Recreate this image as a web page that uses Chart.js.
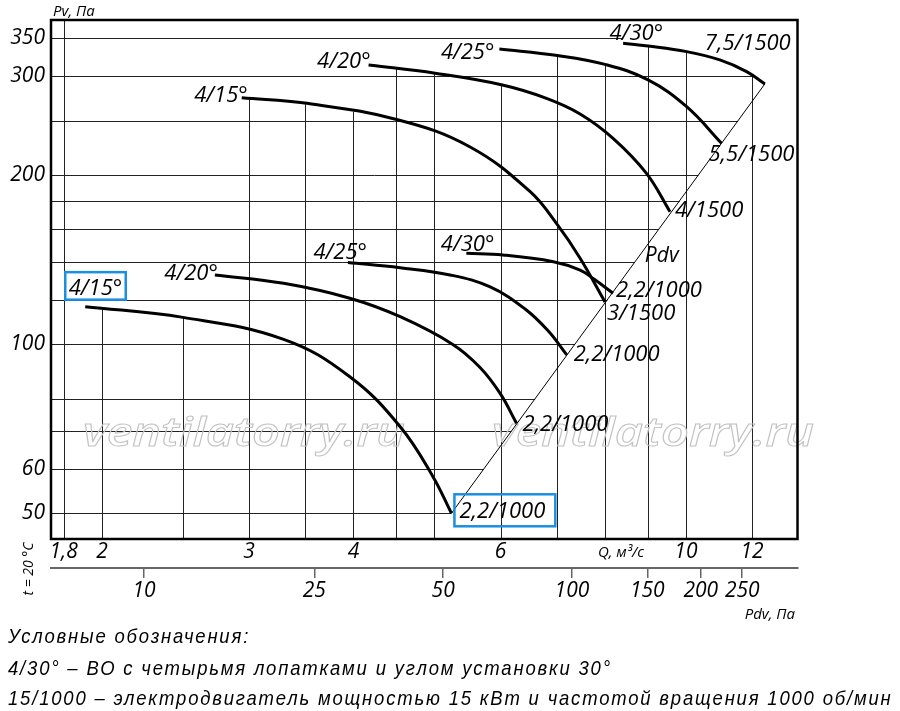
<!DOCTYPE html>
<html>
<head>
<meta charset="utf-8">
<script src="https://cdn.jsdelivr.net/npm/chart.js@4.4.1/dist/chart.umd.min.js"></script>
<style>
  html, body { margin: 0; padding: 0; background: #fff; }
  #wrap { position: relative; width: 900px; height: 711px; overflow: hidden; }
  #chart { position: absolute; left: 0; top: 0; }
  .note {
    position: absolute; left: 8px; margin: 0;
    font: italic 21px "Liberation Sans", Arial, sans-serif;
    line-height: 24px; white-space: nowrap; color: #000;
    transform: scaleX(0.88); transform-origin: 0 0;
  }
</style>
</head>
<body>
<div id="wrap">
  <canvas id="chart" width="900" height="711"></canvas>
  <p class="note" style="top:624px">Условные обозначения:</p>
  <p class="note" style="top:656px">4/30° – ВО с четырьмя лопатками и углом установки 30°</p>
  <p class="note" id="lastNote" style="top:686px">15/1000 – электродвигатель мощностью 15 кВт и частотой вращения 1000 об/мин</p>
</div>
<script>
// axes: Q in m3/s (log), Pv in Pa (log), Pdv in Pa (log)
const qGrid = [1.8, 2, 2.5, 3, 3.5, 4, 4.5, 5, 6, 7, 8, 9, 10, 12];
const qTicks = [1.8, 2, 3, 4, 6, 10, 12];
const pvGrid = [50, 60, 70, 80, 100, 120, 140, 160, 180, 200, 250, 300, 350];
const pvTicks = [50, 60, 100, 200, 300, 350];
const pdvTicks = [10, 25, 50, 100, 150, 200, 250];

// 1000 rpm curves
const q15Low = [1.91, 2.50, 3.30, 3.96, 4.55, 4.98, 5.24];
const pv15Low = [116.6, 111.6, 102.0, 87.5, 71.3, 58.1, 50.0];
const q20Low = [2.73, 3.30, 3.96, 4.55, 5.26, 5.67, 5.99, 6.27];
const pv20Low = [132.8, 128.3, 120.7, 111.9, 99.9, 90.9, 81.8, 72.3];
const q25Low = [3.94, 4.55, 5.22, 5.83, 6.42, 6.84, 7.20];
const pv25Low = [139.8, 136.8, 132.8, 126.4, 115.5, 105.6, 95.7];
const q30Low = [5.46, 6.04, 6.94, 7.47, 7.76, 8.18];
const pv30Low = [145.1, 144.1, 140.2, 135.5, 130.6, 123.2];

// 1500 rpm curves
const q15High = [2.94, 3.52, 4.53, 5.51, 6.51, 7.02, 7.47, 8.00];
const pv15High = [274.6, 268.3, 250.6, 224.6, 186.8, 163.0, 142.2, 118.9];
const q20High = [4.17, 5.01, 6.03, 6.81, 7.47, 8.18, 8.97, 9.57];
const pv20High = [314.0, 303.5, 289.3, 273.9, 256.9, 232.5, 201.4, 172.1];
const q25High = [5.98, 7.02, 8.00, 9.01, 10.02, 11.03];
const pv25High = [335.3, 326.4, 314.7, 295.3, 264.6, 227.8];
const q30High = [8.41, 9.01, 10.02, 10.98, 11.82, 12.43];
const pv30High = [343.2, 339.4, 331.6, 320.5, 305.5, 290.5];

// dynamic pressure line
const qPdvLine = [5.24, 12.43];
const pvPdvLine = [50.0, 290.5];

const angleLabels = ['4/15°', '4/20°', '4/25°', '4/30°'];
const motorLow = ['2,2/1000', '2,2/1000', '2,2/1000', '2,2/1000'];
const motorHigh = ['3/1500', '4/1500', '5,5/1500', '7,5/1500'];

const curves = [
  { q: q15Low, pv: pv15Low, start: angleLabels[0], end: motorLow[0] },
  { q: q20Low, pv: pv20Low, start: angleLabels[1], end: motorLow[1] },
  { q: q25Low, pv: pv25Low, start: angleLabels[2], end: motorLow[2] },
  { q: q30Low, pv: pv30Low, start: angleLabels[3], end: motorLow[3] },
  { q: q15High, pv: pv15High, start: angleLabels[0], end: motorHigh[0] },
  { q: q20High, pv: pv20High, start: angleLabels[1], end: motorHigh[1] },
  { q: q25High, pv: pv25High, start: angleLabels[2], end: motorHigh[2] },
  { q: q30High, pv: pv30High, start: angleLabels[3], end: motorHigh[3] },
];

// label offsets in px from the curve start (right aligned) and end (left aligned)
const startOffsets = [[37, -12], [3, 5], [19, -3], [28, -2], [6, 4], [2, 3], [-5, 10], [40, -3]];
const endOffsets = [[8, 5], [6, 8], [7, 6], [3, 4], [2, 18], [5, 5], [-13, 18], [-60, -34]];
const blue = '#1b8fe0';

function interpLog(qs, ps, q) {
  for (let i = 0; i < qs.length - 1; i++) {
    if (q >= qs[i] && q <= qs[i + 1]) {
      const t = Math.log(q / qs[i]) / Math.log(qs[i + 1] / qs[i]);
      return Math.exp(Math.log(ps[i]) + t * Math.log(ps[i + 1] / ps[i]));
    }
  }
  return null;
}

// right end of a horizontal grid line: the Pdv line, above it the 4/30 curve
function rightEdge(p) {
  if (p <= pvPdvLine[1]) {
    const n = Math.log(pvPdvLine[1] / pvPdvLine[0]) / Math.log(qPdvLine[1] / qPdvLine[0]);
    return qPdvLine[0] * Math.pow(p / pvPdvLine[0], 1 / n);
  }
  const qs = q30High, ps = pv30High;
  if (p >= ps[0]) return qs[0];
  for (let i = 0; i < qs.length - 1; i++) {
    if (p <= ps[i] && p >= ps[i + 1]) {
      const t = Math.log(ps[i] / p) / Math.log(ps[i] / ps[i + 1]);
      return Math.exp(Math.log(qs[i]) + t * Math.log(qs[i + 1] / qs[i]));
    }
  }
  return qs[qs.length - 1];
}

function italic(size) {
  return 'italic ' + size + 'px "Open Sans", "DejaVu Sans", sans-serif';
}

function watermark(ctx, text, left, baseline) {
  ctx.save();
  ctx.font = 'italic 600 40px "Open Sans", sans-serif';
  const sx = 322 / ctx.measureText(text).width;
  ctx.translate(left, baseline);
  ctx.scale(sx, 1);
  ctx.strokeStyle = '#c2c2c2';
  ctx.lineWidth = 1;
  ctx.textAlign = 'left';
  ctx.textBaseline = 'alphabetic';
  ctx.strokeText(text, 0, 0);
  ctx.restore();
}

const fanPlugin = {
  id: 'fanPlugin',
  beforeDatasetsDraw(chart) {
    const { ctx, chartArea: area, scales: { x, y } } = chart;
    ctx.save();
    ctx.strokeStyle = '#222';
    ctx.lineWidth = 1;
    ctx.beginPath();
    // vertical lines stop under the highest curve above them
    qGrid.forEach(q => {
      let top = null;
      curves.forEach(c => {
        if (q < c.q[0] * 1.01 || q > c.q[c.q.length - 1]) return;
        const p = interpLog(c.q, c.pv, q);
        if (p !== null && (top === null || p > top)) top = p;
      });
      const px = Math.round(x.getPixelForValue(q)) + 0.5;
      ctx.moveTo(px, area.bottom);
      ctx.lineTo(px, top === null ? area.top : y.getPixelForValue(top));
    });
    pvGrid.forEach(p => {
      const py = Math.round(y.getPixelForValue(p)) + 0.5;
      ctx.moveTo(area.left, py);
      ctx.lineTo(x.getPixelForValue(rightEdge(p)), py);
    });
    ctx.stroke();
    ctx.restore();

    watermark(ctx, 'ventilatorry.ru', 83, 446);
    watermark(ctx, 'ventilatorry.ru', 492, 446);
  },
  afterDatasetsDraw(chart) {
    const { ctx, chartArea: area, scales: { x, y } } = chart;
    ctx.save();
    ctx.fillStyle = '#000';
    ctx.textBaseline = 'alphabetic';
    ctx.font = italic(22);
    curves.forEach((c, i) => {
      const n = c.q.length - 1;
      const sx = x.getPixelForValue(c.q[0]) + startOffsets[i][0];
      const sy = y.getPixelForValue(c.pv[0]) + startOffsets[i][1];
      const ex = x.getPixelForValue(c.q[n]) + endOffsets[i][0];
      const ey = y.getPixelForValue(c.pv[n]) + endOffsets[i][1];
      ctx.textAlign = 'right';
      ctx.fillText(c.start, sx, sy);
      ctx.textAlign = 'left';
      ctx.fillText(c.end, ex, ey);
      if (i === 0) {
        ctx.strokeStyle = blue;
        ctx.lineWidth = 2.5;
        const ws = ctx.measureText(c.start).width;
        ctx.strokeRect(sx - ws - 3.5, sy - 22.5, ws + 7, 27.5);
        const we = ctx.measureText(c.end).width;
        ctx.strokeRect(ex - 5, ey - 24, we + 15, 32);
      }
    });
    ctx.font = italic(21);
    ctx.textAlign = 'left';
    ctx.fillText('Pdv', x.getPixelForValue(8.93), y.getPixelForValue(140));

    // frame
    ctx.strokeStyle = '#000';
    ctx.lineWidth = 2.5;
    ctx.strokeRect(area.left, area.top, area.right - area.left, area.bottom - area.top);

    // axis captions
    ctx.font = italic(15);
    ctx.textAlign = 'center';
    ctx.fillText('Q, м³/с', x.getPixelForValue(8.36), 557);
    ctx.textAlign = 'right';
    ctx.fillText('Pdv, Па', 795, 619);
    ctx.textAlign = 'left';
    ctx.fillText('Pv, Па', 53, 16);
    ctx.font = italic(14);
    ctx.translate(33, 569);
    ctx.rotate(-Math.PI / 2);
    ctx.textAlign = 'center';
    ctx.fillText('t = 20 °C', 0, 0);
    ctx.restore();
  }
};

const datasets = curves.map(c => ({
  data: c.q.map((q, i) => ({ x: q, y: c.pv[i] })),
  borderColor: '#000',
  borderWidth: 3,
  pointRadius: 0,
  tension: 0.4,
  fill: false,
}));
datasets.push({
  data: qPdvLine.map((q, i) => ({ x: q, y: pvPdvLine[i] })),
  borderColor: '#000',
  borderWidth: 1,
  pointRadius: 0,
  tension: 0,
  fill: false,
});

const tickFont = { family: '"Open Sans", "DejaVu Sans", sans-serif', style: 'italic', size: 21 };
const fmt = v => String(v).replace('.', ',');

new Chart(document.getElementById('chart'), {
  type: 'line',
  data: { datasets },
  options: {
    responsive: false,
    animation: false,
    events: [],
    layout: { padding: { left: 0, right: 102.5, top: 20, bottom: 93 } },
    plugins: { legend: { display: false }, tooltip: { enabled: false } },
    scales: {
      x: {
        type: 'logarithmic',
        position: 'bottom',
        weight: 0,
        min: 1.738,
        max: 13.6,
        grid: { display: false, drawTicks: false },
        border: { display: false },
        ticks: { font: tickFont, color: '#000', padding: 0, autoSkip: false, maxRotation: 0, callback: fmt },
        afterBuildTicks: s => { s.ticks = qTicks.map(v => ({ value: v })); },
        afterFit: s => { s.height = 29; },
      },
      x2: {
        type: 'logarithmic',
        position: 'bottom',
        weight: 1,
        min: 6.06,
        max: 336.6,
        grid: { drawOnChartArea: false, drawTicks: true, tickLength: 10, color: '#666', lineWidth: 1.5 },
        border: { display: true, color: '#666', width: 2 },
        ticks: { font: tickFont, color: '#000', padding: 0, autoSkip: false, maxRotation: 0, callback: v => String(v) },
        afterBuildTicks: s => { s.ticks = pdvTicks.map(v => ({ value: v })); },
        afterFit: s => { s.height = 50; },
      },
      y: {
        type: 'logarithmic',
        position: 'left',
        min: 45,
        max: 377.5,
        grid: { display: false, drawTicks: false },
        border: { display: false },
        ticks: { font: tickFont, color: '#000', padding: 6, autoSkip: false, callback: v => String(v) },
        afterBuildTicks: s => { s.ticks = pvTicks.map(v => ({ value: v })); },
        afterFit: s => { s.width = 51; },
      },
    },
  },
  plugins: [fanPlugin],
});

// spread the legend letters to the width of the original lines
const last = document.getElementById('lastNote');
const spacing = (885 / 0.88 - last.offsetWidth) / last.textContent.length;
document.querySelectorAll('.note').forEach(el => { el.style.letterSpacing = spacing.toFixed(2) + 'px'; });
</script>
</body>
</html>
